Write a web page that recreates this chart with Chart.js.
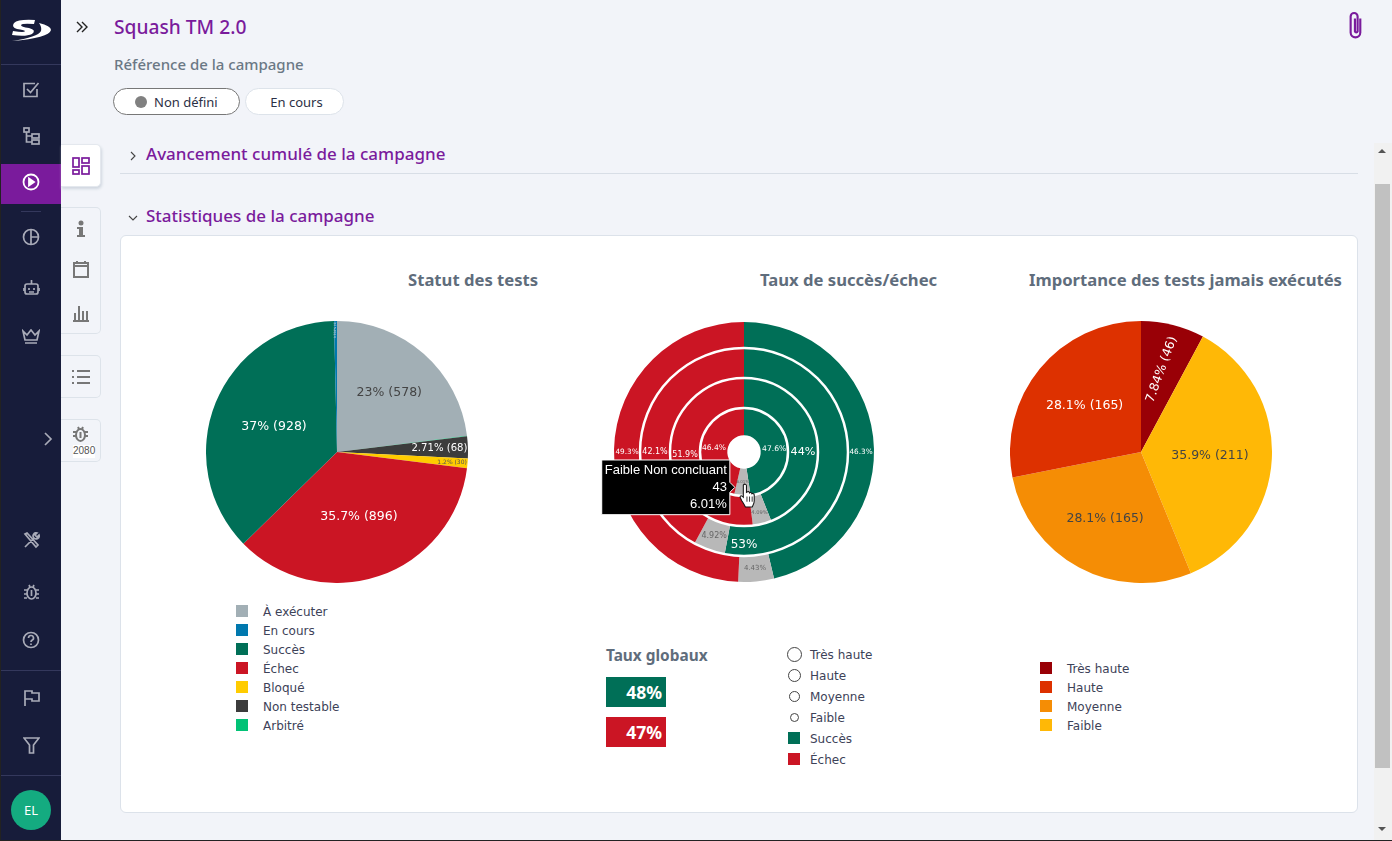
<!DOCTYPE html>
<html lang="fr">
<head>
<meta charset="UTF-8">
<title>Squash TM 2.0</title>
<script src="https://cdn.jsdelivr.net/npm/chart.js"></script>
<style>
  html, body { margin: 0; padding: 0; }
  body { width: 1392px; height: 841px; overflow: hidden; position: relative; background: #f2f4f9; font-family: "Noto Sans", sans-serif; }
  .abs { position: absolute; }
  .txt { position: absolute; white-space: nowrap; line-height: 1; }
  .purple { color: #7a1b9c; font-weight: 500; }
  #side { position: absolute; left: 1px; top: 0; width: 60px; height: 840px; background: #171c3a; }
  #side .sep { position: absolute; left: 0; width: 60px; height: 1px; background: #34385c; }
  #side svg, .tab svg { position: absolute; fill: none; stroke: #a9abb8; stroke-width: 1.7; }
  .tab { position: absolute; left: 61px; width: 40px; background: #f2f4f9; border: 1px solid #dde3ea; border-left: none; border-radius: 0 5px 5px 0; box-sizing: border-box; }
  .tab svg { stroke: #777; }
  #card { position: absolute; left: 120px; top: 235px; width: 1238px; height: 578px; box-sizing: border-box; background: #fff; border: 1px solid #dce2ea; border-radius: 6px; }
  .ctitle { position: absolute; top: 271px; font-size: 16.65px; font-weight: 700; color: #5f6d7c; white-space: nowrap; line-height: 18px; }
  canvas { position: absolute; display: block; }
  .leg { position: absolute; font: 12px "DejaVu Sans", sans-serif; color: #3d4258; white-space: nowrap; line-height: 14px; }
  .sw { position: absolute; width: 12px; height: 12px; }
  .circ { position: absolute; box-sizing: border-box; border: 1.5px solid #444; border-radius: 50%; background: #fff; }
  .rate { position: absolute; left: 606px; width: 60px; height: 30px; box-sizing: border-box; padding-right: 4px; text-align: right; color: #fff; font: bold 17.5px/30px "Noto Sans", sans-serif; }
  .pill { position: absolute; top: 88px; height: 27px; box-sizing: border-box; border-radius: 14px; background: #fff; font-size: 13px; line-height: 27px; color: #2c3045; }
</style>
</head>
<body>

<!-- left navigation -->
<div class="abs" style="left:0;top:0;width:1px;height:841px;background:#222"></div>
<div class="abs" style="left:0;top:840px;width:1392px;height:1px;background:#222"></div>
<div id="side">
  <svg style="left:9px;top:18px;stroke:none;fill:#fff" width="42" height="24" viewBox="0 0 42 24">
    <path d="M4 5 Q8 1 25 2 L24 6 Q12 5 11 7 Q11 9 19 10 Q27 12 22 16 Q16 19 2 17 L3 13 Q15 15 15 13 Q14 12 7 11 Q1 9 4 5Z"/>
    <path d="M29 5 Q41 8 41 12 Q39 20 2 23 Q28 19 31 13 Q32 9 29 5Z"/>
  </svg>
  <div class="sep" style="top:64px"></div>
  <svg style="left:21px;top:81px" width="18" height="18" viewBox="0 0 18 18"><path d="M15 8v7.5H2V2.5h11"/><path d="M5 8l3.5 3.5L16.5 2"/></svg>
  <svg style="left:22px;top:127px" width="17" height="18" viewBox="0 0 17 18"><rect x="1" y="1" width="5" height="4"/><rect x="9" y="7" width="7" height="4"/><rect x="9" y="13" width="7" height="4"/><path d="M3.5 5v10h5.5M3.5 9h5.5"/></svg>
  <div class="abs" style="left:0;top:164px;width:60px;height:40px;background:#7a1b9c"></div>
  <svg style="left:21px;top:173px;stroke:#fff;stroke-width:1.8" width="18" height="18" viewBox="0 0 18 18"><circle cx="9" cy="9" r="7.5"/><path d="M7 5.5l5 3.5-5 3.5z" fill="#fff"/></svg>
  <div class="sep" style="top:211px;left:20px;width:20px"></div>
  <svg style="left:21px;top:228px" width="18" height="18" viewBox="0 0 18 18"><circle cx="9" cy="9" r="7.5"/><path d="M9 1.5v15M9 9h7.5"/></svg>
  <svg style="left:22px;top:278px" width="17" height="18" viewBox="0 0 17 18"><rect x="2" y="6" width="13" height="10" rx="2"/><path d="M8.5 6V2M1 10v3M16 10v3M6 10v2M11 10v2M6 14h5"/></svg>
  <svg style="left:21px;top:329px" width="18" height="16" viewBox="0 0 18 16"><path d="M1 2l4 4 4-5 4 5 4-4-2 9H3zM3 14h12"/></svg>
  <svg style="left:43px;top:432px" width="9" height="14" viewBox="0 0 9 14"><path d="M1 1l6 6-6 6"/></svg>
  <svg style="left:22px;top:532px" width="17" height="17" viewBox="0 0 17 17"><path d="M2 15L11 6M11 6a3 3 0 0 1 3-5l-2 2 2 2 2-2a3 3 0 0 1-5 3zM2 2l2-1 11 12-2 2z"/></svg>
  <svg style="left:22px;top:583px" width="17" height="18" viewBox="0 0 17 18"><ellipse cx="8.5" cy="10" rx="4.5" ry="6"/><path d="M8.5 7v6M6 2l1 2M11 2l-1 2M1 7h3M1 11h3M1 15h3M13 7h3M13 11h3M13 15h3"/></svg>
  <svg style="left:21px;top:631px" width="18" height="18" viewBox="0 0 18 18"><circle cx="9" cy="9" r="7.5"/><path d="M6.5 7a2.5 2.5 0 1 1 3.5 2.3Q9 10 9 11M9 12.5v1.5"/></svg>
  <div class="sep" style="top:670px"></div>
  <svg style="left:22px;top:689px" width="17" height="18" viewBox="0 0 17 18"><path d="M2 17V2h7v2h7v8H9v-2H2"/></svg>
  <svg style="left:22px;top:737px" width="17" height="17" viewBox="0 0 17 17"><path d="M1 1h15l-5.500 7v8h-4V8z"/></svg>
  <div class="sep" style="top:775px"></div>
  <div class="abs" style="left:10px;top:790px;width:40px;height:40px;border-radius:50%;background:#14ab80;color:#fff;font-size:13px;line-height:40px;text-align:center">EL</div>
</div>

<!-- side tabs -->
<div class="tab" style="top:144px;height:43px;background:#fff;box-shadow:1px 2px 3px #cfd6df;border-color:#e4e8ee">
  <svg style="left:11px;top:12px;stroke:#7a1b9c" width="18" height="18" viewBox="0 0 18 18"><rect x="1" y="1" width="6" height="9"/><rect x="10" y="1" width="7" height="5"/><rect x="1" y="13" width="6" height="4"/><rect x="10" y="9" width="7" height="8"/></svg>
</div>
<div class="tab" style="top:207px;height:127px">
  <svg style="left:13px;top:12px;fill:#777;stroke:none" width="14" height="18" viewBox="0 0 14 18"><circle cx="7" cy="3" r="2.5"/><path d="M3 7h6v8h2v2H3v-2h2V9H3z"/></svg>
  <svg style="left:11px;top:52px;stroke-width:2" width="18" height="18" viewBox="0 0 18 18"><rect x="2" y="3" width="14" height="14"/><path d="M2 6h14M5 1v3M13 1v3" /></svg>
  <svg style="left:11px;top:96px;stroke-width:2" width="18" height="18" viewBox="0 0 18 18"><path d="M1 17h16M3 16v-7M7 16V2M11 16V7M15 16v-9"/></svg>
</div>
<div class="tab" style="top:355px;height:43px">
  <svg style="left:11px;top:13px;stroke-width:2" width="18" height="16" viewBox="0 0 18 16"><path d="M5 2h13M5 8h13M5 14h13M0 2h2M0 8h2M0 14h2"/></svg>
</div>
<div class="tab" style="top:419px;height:43px">
  <svg style="left:11px;top:5px;stroke-width:2" width="17" height="18" viewBox="0 0 17 18"><ellipse cx="8.5" cy="10" rx="4.5" ry="6"/><path d="M8.5 7v6M6 2l1 2M11 2l-1 2M1 7h3M1 11h3M13 7h3M13 11h3"/></svg>
  <div class="txt" style="left:12px;top:25px;font:10px 'Liberation Sans',sans-serif;color:#555;background:#fff;padding:0 0 2px 0">2080</div>
</div>

<!-- header -->
<svg class="abs" style="left:76px;top:21px;fill:none;stroke:#222;stroke-width:1.4" width="12" height="12" viewBox="0 0 12 12"><path d="M1 1l5 5-5 5M6 1l5 5-5 5"/></svg>
<div class="txt purple" style="left:114px;top:17px;font-size:19.2px;line-height:20px">Squash TM 2.0</div>
<div class="txt" style="left:114px;top:56px;font-size:15px;font-weight:500;color:#6b7885;line-height:16px">Référence de la campagne</div>
<div class="pill" style="left:113px;width:127px;border:1px solid #777">
  <span class="abs" style="left:21px;top:7px;width:12px;height:12px;border-radius:50%;background:#808080"></span>
  <span class="abs" style="left:40px;top:0;line-height:26px">Non défini</span>
</div>
<div class="pill" style="left:245px;width:99px;border:1px solid #dde3ea;text-align:center;line-height:26px;padding-left:4px">En cours</div>
<svg class="abs" style="left:1347px;top:10px;fill:none;stroke:#7a1b9c;stroke-width:2" width="18" height="30" viewBox="0 0 16 28"><path d="M12 8v13a4.5 4.5 0 0 1-9 0V6a3.2 3.2 0 0 1 6.5 0v14a1.3 1.3 0 0 1-2.500 0V8"/></svg>

<svg class="abs" style="left:129px;top:151px;fill:none;stroke:#444;stroke-width:1.1" width="8" height="10" viewBox="0 0 8 10"><path d="M2 1l4 4-4 4"/></svg>
<div class="txt purple" style="left:146px;top:144px;font-size:17px;line-height:20px">Avancement cumulé de la campagne</div>
<div class="abs" style="left:120px;top:173px;width:1238px;height:1px;background:#d8dee6"></div>
<svg class="abs" style="left:128px;top:214px;fill:none;stroke:#444;stroke-width:1.1" width="10" height="8" viewBox="0 0 10 8"><path d="M1 2l4 4 4-4"/></svg>
<div class="txt purple" style="left:146px;top:206px;font-size:17px;line-height:20px">Statistiques de la campagne</div>

<!-- scrollbar -->
<div class="abs" style="left:1374px;top:143px;width:18px;height:697px;background:#f1f1f1"></div>
<div class="abs" style="left:1375px;top:184px;width:15px;height:584px;background:#c1c1c1"></div>
<svg class="abs" style="left:1377px;top:148px;fill:#555" width="10" height="6"><path d="M1 5h8L5 1z"/></svg>
<svg class="abs" style="left:1377px;top:826px;fill:#555" width="10" height="6"><path d="M1 1h8L5 5z"/></svg>

<!-- chart card -->
<div id="card"></div>
<div class="ctitle" style="left:408px">Statut des tests</div>
<div class="ctitle" style="left:760px">Taux de succès/échec</div>
<div class="ctitle" style="left:1029px">Importance des tests jamais exécutés</div>

<canvas id="statusChart" style="left:206px;top:321px" width="262" height="262"></canvas>
<canvas id="rateChart" style="left:594px;top:311px" width="300" height="282"></canvas>
<canvas id="importanceChart" style="left:1010px;top:321px" width="262" height="262"></canvas>

<div id="statusLegend"></div>
<div id="importanceLegend"></div>
<div id="rateLegend"></div>

<div class="txt" style="left:606px;top:648px;font-size:15.4px;font-weight:700;color:#5f6d7c;line-height:16px">Taux globaux</div>
<div class="rate" id="globalSuccess" style="top:677px;background:#006f57"></div>
<div class="rate" id="globalFailure" style="top:717px;background:#cb1524"></div>

<!-- mouse pointer over the tooltip -->
<svg class="abs" style="left:739px;top:483px" width="18" height="26" viewBox="0 0 17 25"><path d="M4 2c1-1.5 3-1 3 .5V9l1-.5c1-.5 2 0 2 1 1-.7 2.2-.2 2.2.8 1-.5 2.3 0 2.3 1.2V17c0 3-1 4-2 6H6c-1-2-2-3.5-3.5-6L1 14c-.5-1 .5-2.3 2-1.300l1 1z" fill="#fff" stroke="#111" stroke-width="1"/><path d="M7.5 13v5M10 13v5M12.5 13v5" stroke="#111" stroke-width=".8"/></svg>

<script>
// status pie
const statusLabels = ["À exécuter", "Arbitré", "Non testable", "Bloqué", "Échec", "Succès", "En cours"];
const statusValues = [578, 1, 68, 30, 896, 928, 9];
const statusColors = ["#a2afb5", "#02c276", "#3c3c3c", "#ffcc00", "#cb1524", "#006f57", "#0078ae"];
const statusLegendOrder = ["À exécuter", "En cours", "Succès", "Échec", "Bloqué", "Non testable", "Arbitré"];

// importance pie
const importanceLabels = ["Très haute", "Faible", "Moyenne", "Haute"];
const importanceValues = [46, 211, 165, 165];
const importanceColors = ["#990006", "#ffb806", "#f58d05", "#dd3100"];
const importanceLegendOrder = ["Très haute", "Haute", "Moyenne", "Faible"];

// success rate rings, percent per importance, outer ring first
const ringNames = ["Très haute", "Haute", "Moyenne", "Faible"];
const ringStatus = ["Succès", "Non concluant", "Échec"];
const ringColors = ["#006f57", "#b8b8b8", "#cb1524"];
const ringTresHaute = [46.3, 4.43, 49.3];
const ringHaute = [53, 4.92, 42.1];
const ringMoyenne = [44, 4.09, 51.9];
const ringFaible = [47.6, 6.01, 46.4];
const hoveredCount = 43;
const globalRates = ["48%", "47%"];

const LABEL_FONT = '"DejaVu Sans", sans-serif';

// text placement inside the slices: distance from centre, size and colour per slice
const statusLabelStyle = {
  radius: [79, 0, 102.5, 115.5, 68.6, 68, 122],
  size: [12.5, 0, 10.1, 6, 12.5, 12.5, 3],
  color: ["#444", "#fff", "#fff", "#555", "#fff", "#fff", "#ddd"],
  rotate: [0, 0, 0, 0, 0, 0, -90]
};
const importanceLabelStyle = {
  radius: [85, 69, 76, 73],
  size: [12.5, 12.5, 12.5, 12.5],
  color: ["#fff", "#444", "#444", "#fff"],
  rotate: [-70, 0, 0, 0]
};
// ring labels: the success and failure ones sit at a fixed angle, not mid slice
const ringLabelAngle = [[90, null, 270], [180, null, 270], [90, null, 267], [84, null, 278]];
const ringLabelSize = [[7.3, 7, 7.3], [12, 8, 8], [11.2, 5.2, 8], [7.6, 4, 7.6]];
const ringLabelNudge = [[0, 0, 0], [4, 0, 0], [0, 4, 0], [0, 0, 0]];

function pctText(value, total) {
  return parseFloat((value / total * 100).toPrecision(3)) + "% (" + value + ")";
}

function drawText(ctx, text, x, y, size, color, rotate) {
  ctx.save();
  ctx.translate(x, y);
  ctx.rotate((rotate || 0) * Math.PI / 180);
  ctx.font = size + "px " + LABEL_FONT;
  ctx.fillStyle = color;
  ctx.textAlign = "center";
  ctx.textBaseline = "middle";
  ctx.fillText(text, 0, 0);
  ctx.restore();
}

const pieLabelPlugin = {
  id: "pieText",
  afterDatasetsDraw(chart, args, opts) {
    const values = chart.data.datasets[0].data;
    const total = values.reduce((a, b) => a + b, 0);
    chart.getDatasetMeta(0).data.forEach((arc, i) => {
      if (!opts.size[i]) return;
      const mid = (arc.startAngle + arc.endAngle) / 2;
      drawText(chart.ctx, pctText(values[i], total),
        arc.x + Math.cos(mid) * opts.radius[i], arc.y + Math.sin(mid) * opts.radius[i],
        opts.size[i], opts.color[i], opts.rotate[i]);
    });
  }
};

const ringLabelPlugin = {
  id: "ringText",
  afterDatasetsDraw(chart) {
    const ctx = chart.ctx;
    chart.data.datasets.forEach((ds, d) => {
      const arcs = chart.getDatasetMeta(d).data;
      // white line around each ring except the outer one
      if (d > 0) {
        ctx.save();
        ctx.strokeStyle = "#fff";
        ctx.lineWidth = 2.5;
        ctx.beginPath();
        ctx.arc(arcs[0].x, arcs[0].y, arcs[0].outerRadius, 0, Math.PI * 2);
        ctx.stroke();
        ctx.restore();
      }
      arcs.forEach((arc, i) => {
        const r = (arc.innerRadius + arc.outerRadius) / 2 + ringLabelNudge[d][i];
        const deg = ringLabelAngle[d][i];
        const a = deg === null ? (arc.startAngle + arc.endAngle) / 2 : (deg - 90) * Math.PI / 180;
        drawText(ctx, ds.data[i] + "%", arc.x + Math.cos(a) * r, arc.y + Math.sin(a) * r,
          ringLabelSize[d][i], i === 1 ? "#666" : "#fff");
      });
    });
  }
};

Chart.Tooltip.positioners.pointer = function (items) {
  const p = Chart.Tooltip.positioners.average.call(this, items);
  return p && { x: p.x - 8, y: p.y + 5 };
};

new Chart(document.getElementById("statusChart"), {
  type: "pie",
  data: { labels: statusLabels, datasets: [{ data: statusValues, backgroundColor: statusColors, borderWidth: 0 }] },
  options: {
    responsive: false,
    animation: false,
    events: [],
    plugins: { legend: { display: false }, tooltip: { enabled: false }, pieText: statusLabelStyle }
  },
  plugins: [pieLabelPlugin]
});

new Chart(document.getElementById("importanceChart"), {
  type: "pie",
  data: { labels: importanceLabels, datasets: [{ data: importanceValues, backgroundColor: importanceColors, borderWidth: 0 }] },
  options: {
    responsive: false,
    animation: false,
    events: [],
    plugins: { legend: { display: false }, tooltip: { enabled: false }, pieText: importanceLabelStyle }
  },
  plugins: [pieLabelPlugin]
});

const ringData = [ringTresHaute, ringHaute, ringMoyenne, ringFaible];
const ringWeights = [26, 30, 30, 27.3];
const rateChart = new Chart(document.getElementById("rateChart"), {
  type: "doughnut",
  data: {
    labels: ringStatus,
    datasets: ringData.map((values, i) => ({
      label: ringNames[i],
      data: values,
      weight: ringWeights[i],
      backgroundColor: ringColors,
      borderWidth: 0
    }))
  },
  options: {
    responsive: false,
    animation: false,
    events: [],
    cutout: 16.7,
    layout: { padding: { top: 11, bottom: 11, left: 20, right: 20 } },
    plugins: {
      legend: { display: false },
      tooltip: {
        position: "pointer",
        xAlign: "right",
        yAlign: "center",
        backgroundColor: "#000",
        borderColor: "#fff",
        borderWidth: 1,
        cornerRadius: 0,
        caretSize: 5,
        caretPadding: 0,
        padding: { x: 3, y: 2 },
        displayColors: false,
        bodyAlign: "right",
        bodyColor: "#fff",
        bodySpacing: 0,
        bodyFont: { family: '"Liberation Sans", sans-serif', size: 13, lineHeight: 1.3 },
        callbacks: {
          title: () => "",
          label: (item) => [
            item.dataset.label + " " + item.label,
            String(hoveredCount),
            item.raw + "%"
          ]
        }
      }
    }
  },
  plugins: [ringLabelPlugin]
});
rateChart.tooltip.setActiveElements([{ datasetIndex: 3, index: 1 }], { x: 0, y: 0 });
rateChart.update();

document.getElementById("globalSuccess").textContent = globalRates[0];
document.getElementById("globalFailure").textContent = globalRates[1];

function addSquare(host, x, y, color) {
  const sw = document.createElement("div");
  sw.className = "sw";
  sw.style.cssText = "left:" + x + "px;top:" + (y - 6) + "px;background:" + color + ";";
  host.appendChild(sw);
}
function addLegendText(host, x, y, text) {
  const t = document.createElement("div");
  t.className = "leg";
  t.style.cssText = "left:" + x + "px;top:" + (y - 6) + "px;";
  t.textContent = text;
  host.appendChild(t);
}

const statusHost = document.getElementById("statusLegend");
statusLegendOrder.forEach((name, i) => {
  addSquare(statusHost, 236, 611 + i * 19, statusColors[statusLabels.indexOf(name)]);
  addLegendText(statusHost, 263, 611 + i * 19, name);
});
const importanceHost = document.getElementById("importanceLegend");
importanceLegendOrder.forEach((name, i) => {
  addSquare(importanceHost, 1040, 668 + i * 19, importanceColors[importanceLabels.indexOf(name)]);
  addLegendText(importanceHost, 1067, 668 + i * 19, name);
});
const rateHost = document.getElementById("rateLegend");
const circleSizes = [15, 13, 11, 9];
ringNames.forEach((name, i) => {
  const y = 654 + i * 21;
  const c = document.createElement("div");
  c.className = "circ";
  c.style.cssText = "left:" + (794 - circleSizes[i] / 2) + "px;top:" + (y - circleSizes[i] / 2) + "px;width:" + circleSizes[i] + "px;height:" + circleSizes[i] + "px;";
  rateHost.appendChild(c);
  addLegendText(rateHost, 810, y, name);
});
[["Succès", ringColors[0]], ["Échec", ringColors[2]]].forEach((row, i) => {
  const y = 738 + i * 21;
  addSquare(rateHost, 788, y, row[1]);
  addLegendText(rateHost, 810, y, row[0]);
});
</script>
</body>
</html>
